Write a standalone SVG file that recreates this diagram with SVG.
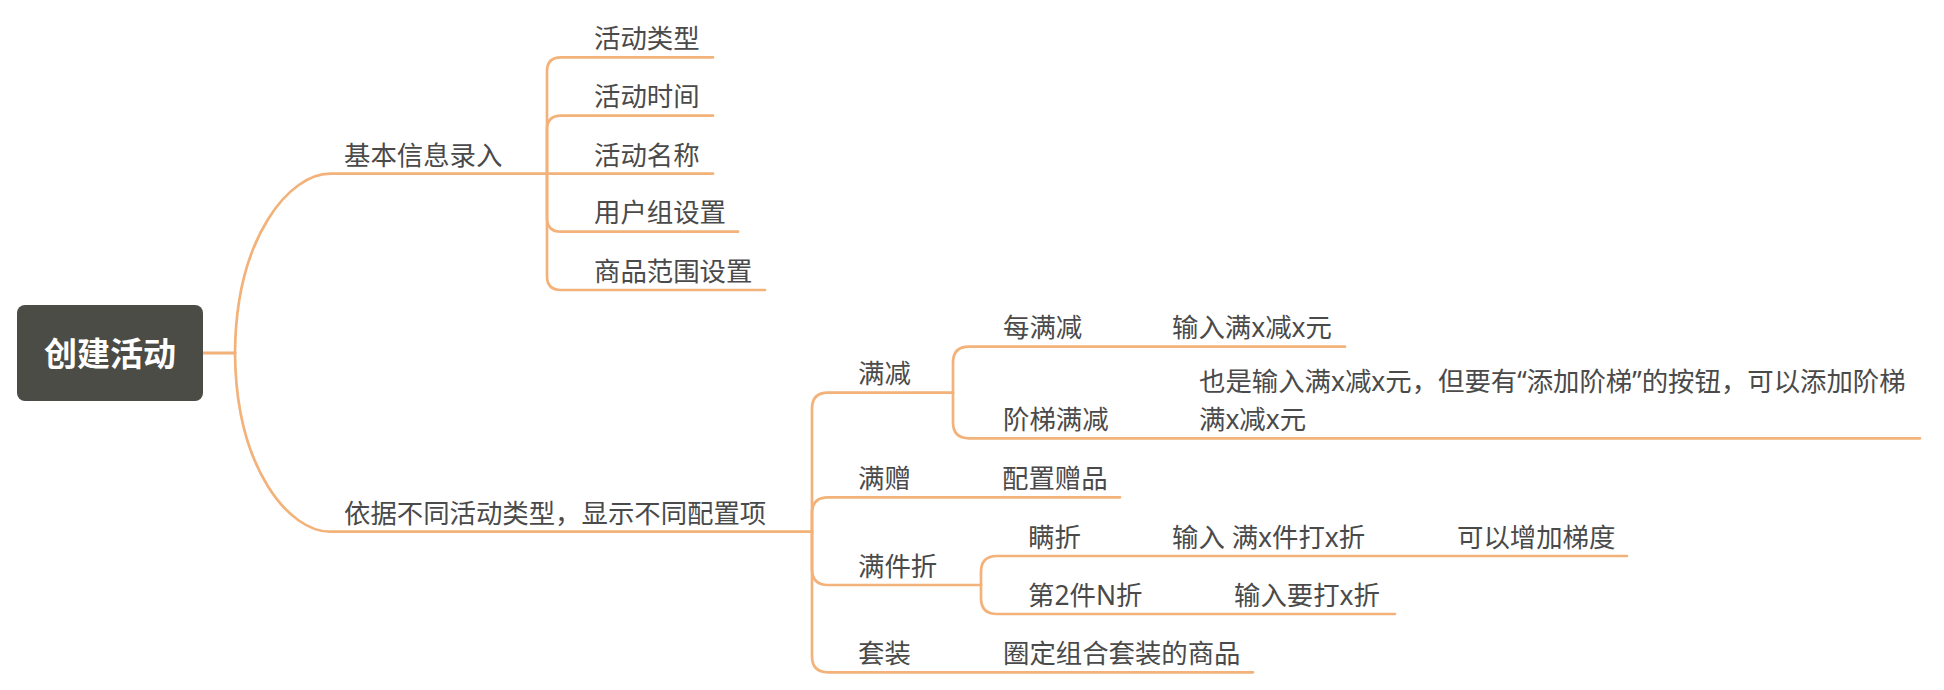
<svg xmlns="http://www.w3.org/2000/svg" width="1944" height="690" viewBox="0 0 1944 690">
<style>
.bg{fill:#ffffff}
.c{fill:none;stroke:#F2B27A;stroke-width:2.7;stroke-linecap:round;stroke-linejoin:round}
.c1{fill:none;stroke:#F2B27A;stroke-width:3.2;stroke-linecap:round}
.t{font-family:"Noto Sans","Noto Sans CJK SC",sans-serif;font-size:26.4px;fill:#4a4a4a}
.root{fill:#4c4c46}
.rt{font-family:"Noto Sans","Noto Sans CJK SC",sans-serif;font-size:33px;font-weight:bold;fill:#ffffff}
</style>
<rect class="bg" x="0" y="0" width="1944" height="690"/>
<g id="connectors">
<path class="c1" d="M203,353 L235,353"/>
<path class="c" d="M235,353 C236,236 290,173.7 330,173.7 L547,173.7"/>
<path class="c" d="M235,353 C236,470 290,531.7 330,531.7 L812,531.7"/>
<path class="c" d="M547,173.7 L547,71.3 Q547,57.3 561,57.3 L713,57.3"/>
<path class="c" d="M547,173.7 L547,129.7 Q547,115.7 561,115.7 L713,115.7"/>
<path class="c" d="M547,173.7 L713,173.7"/>
<path class="c" d="M547,173.7 L547,217.7 Q547,231.7 561,231.7 L738,231.7"/>
<path class="c" d="M547,173.7 L547,276 Q547,290 561,290 L765,290"/>
<path class="c" d="M812,531.7 L812,408.7 Q812,392.7 828,392.7 L953,392.7"/>
<path class="c" d="M812,531.7 L812,513.3 Q812,497.3 828,497.3 L1120,497.3"/>
<path class="c" d="M812,531.7 L812,569 Q812,585 828,585 L981,585"/>
<path class="c" d="M812,531.7 L812,656.3 Q812,672.3 828,672.3 L1253,672.3"/>
<path class="c" d="M953,392.7 L953,362.7 Q953,346.7 969,346.7 L1345,346.7"/>
<path class="c" d="M953,392.7 L953,422.3 Q953,438.3 969,438.3 L1920,438.3"/>
<path class="c" d="M981,585 L981,572 Q981,556 997,556 L1627,556"/>
<path class="c" d="M981,585 L981,598 Q981,614 997,614 L1395,614"/>
</g>
<g id="root">
<rect class="root" x="17" y="305" width="186" height="96" rx="8"/>
<text class="rt" x="110" y="366" text-anchor="middle">创建活动</text>
</g>
<g id="n-basic"><text class="t" x="344" y="164.5">基本信息录入</text></g>
<g id="n-type"><text class="t" x="594" y="48">活动类型</text></g>
<g id="n-time"><text class="t" x="594" y="106">活动时间</text></g>
<g id="n-name"><text class="t" x="594" y="164.5">活动名称</text></g>
<g id="n-user"><text class="t" x="594" y="222">用户组设置</text></g>
<g id="n-goods"><text class="t" x="594" y="280.5">商品范围设置</text></g>
<g id="n-config"><text class="t" x="344" y="522.5">依据不同活动类型，显示不同配置项</text></g>
<g id="n-mj"><text class="t" x="858" y="383">满减</text></g>
<g id="n-mmj"><text class="t" x="1003" y="337">每满减</text></g>
<g id="n-mmj-in"><text class="t" x="1172" y="337">输入满x减x元</text></g>
<g id="n-jtmj"><text class="t" x="1003" y="429">阶梯满减</text></g>
<g id="n-jtmj-in"><text class="t" x="1199"><tspan x="1199" y="390.5">也是输入满x减x元，但要有“添加阶梯”的按钮，可以添加阶梯</tspan><tspan x="1199" y="429">满x减x元</tspan></text></g>
<g id="n-mz"><text class="t" x="858" y="488">满赠</text></g>
<g id="n-mz-in"><text class="t" x="1002" y="488">配置赠品</text></g>
<g id="n-mjz"><text class="t" x="858" y="575.5">满件折</text></g>
<g id="n-mzhe"><text class="t" x="1028" y="546.5">瞒折</text></g>
<g id="n-mzhe-in"><text class="t" x="1172" y="546.5">输入 满x件打x折</text></g>
<g id="n-mzhe-more"><text class="t" x="1457" y="546.5">可以增加梯度</text></g>
<g id="n-d2j"><text class="t" x="1028" y="604.5">第2件N折</text></g>
<g id="n-d2j-in"><text class="t" x="1234" y="604.5">输入要打x折</text></g>
<g id="n-tz"><text class="t" x="858" y="663">套装</text></g>
<g id="n-tz-in"><text class="t" x="1003" y="663">圈定组合套装的商品</text></g>
</svg>
